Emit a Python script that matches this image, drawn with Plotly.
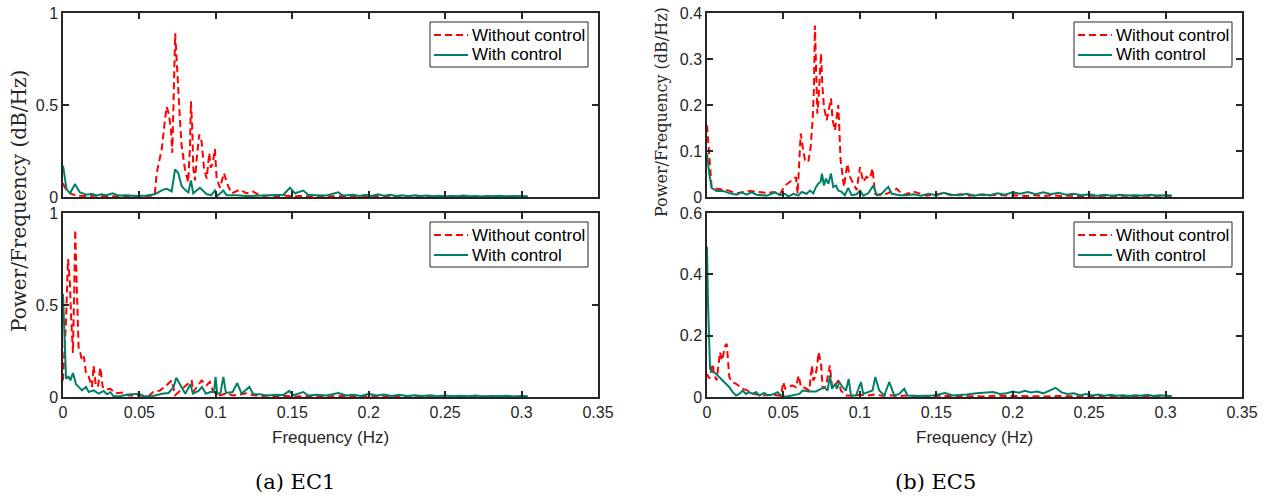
import plotly.graph_objects as go

# ---------------- data (Hz, PSD) ----------------
# EC1, top panel
ec1_top_wo_f = [0, 0.0013, 0.0033, 0.006, 0.009, 0.012, 0.016, 0.02, 0.025, 0.03, 0.035, 0.04, 0.045, 0.05, 0.054, 0.058,
                0.060, 0.0613, 0.0646, 0.0667, 0.0678, 0.0693, 0.0706, 0.0715, 0.0721, 0.0728, 0.0734, 0.0744, 0.0754,
                0.0765, 0.0776, 0.0798, 0.0819, 0.0831, 0.0837, 0.0846, 0.0852, 0.0863, 0.0874, 0.0891, 0.0907, 0.0922,
                0.094, 0.0957, 0.0966, 0.0979, 0.0994, 0.1005, 0.1027, 0.1053, 0.1075, 0.1103, 0.1158, 0.1201, 0.1243,
                0.1288, 0.132, 0.136, 0.14, 0.145, 0.15, 0.155, 0.16, 0.165, 0.17, 0.176, 0.182, 0.188, 0.194, 0.2,
                0.206, 0.212, 0.218, 0.224, 0.23, 0.236, 0.242, 0.248, 0.254, 0.26, 0.266, 0.272, 0.278, 0.284, 0.29,
                0.296, 0.304]
ec1_top_wo_v = [0.075, 0.05, 0.03, 0.015, 0.008, 0.006, 0.004, 0.007, 0.004, 0.005, 0.003, 0.005, 0.004, 0.006, 0.004, 0.006,
                0.01, 0.13, 0.26, 0.42, 0.49, 0.45, 0.37, 0.24, 0.5, 0.70, 0.89, 0.74, 0.55,
                0.42, 0.28, 0.15, 0.08, 0.28, 0.52, 0.37, 0.16, 0.09, 0.2, 0.34, 0.30, 0.16,
                0.1, 0.24, 0.16, 0.18, 0.26, 0.1, 0.05, 0.13, 0.07, 0.02, 0.04, 0.02, 0.03,
                0.008, 0.006, 0.01, 0.004, 0.008, 0.003, 0.006, 0.004, 0.007, 0.003, 0.005, 0.003, 0.006, 0.003, 0.005,
                0.003, 0.006, 0.003, 0.004, 0.002, 0.005, 0.003, 0.004, 0.002, 0.004, 0.002, 0.004, 0.002, 0.003, 0.002,
                0.003, 0.002]
ec1_top_w_f = [0, 0.0024, 0.0046, 0.0078, 0.0111, 0.0155, 0.0188, 0.022, 0.0253, 0.0285, 0.0325, 0.036, 0.0416, 0.048,
               0.0547, 0.060, 0.0656, 0.0678, 0.0711, 0.0733, 0.0754, 0.0776, 0.0803, 0.082, 0.0837, 0.0852, 0.0896,
               0.094, 0.097, 0.0994, 0.1009, 0.1049, 0.107, 0.1136, 0.1201, 0.1288, 0.1376, 0.1441, 0.1485, 0.1518,
               0.1572, 0.1604, 0.1659, 0.1724, 0.18, 0.1833, 0.1899, 0.194, 0.198, 0.202, 0.206, 0.21, 0.214, 0.218,
               0.222, 0.226, 0.23, 0.234, 0.238, 0.242, 0.246, 0.25, 0.254, 0.258, 0.262, 0.266, 0.27, 0.274, 0.278,
               0.282, 0.286, 0.29, 0.294, 0.298, 0.302, 0.304]
ec1_top_w_v = [0.17, 0.04, 0.02, 0.07, 0.025, 0.012, 0.018, 0.008, 0.015, 0.01, 0.02, 0.008, 0.01, 0.005,
               0.008, 0.015, 0.04, 0.045, 0.03, 0.15, 0.13, 0.06, 0.035, 0.025, 0.09, 0.02, 0.05,
               0.015, 0.01, 0.035, 0.005, 0.035, 0.01, 0.01, 0.005, 0.008, 0.01, 0.012, 0.05, 0.02,
               0.035, 0.012, 0.01, 0.008, 0.025, 0.008, 0.012, 0.006, 0.012, 0.005, 0.015, 0.007, 0.012, 0.005,
               0.01, 0.004, 0.009, 0.005, 0.008, 0.004, 0.007, 0.003, 0.006, 0.004, 0.008, 0.004, 0.006, 0.003, 0.006,
               0.004, 0.007, 0.003, 0.006, 0.004, 0.006, 0.004]

# EC1, bottom panel
ec1_bot_wo_f = [0, 0.002, 0.0033, 0.0044, 0.0054, 0.0065, 0.0074, 0.008, 0.009, 0.0103, 0.0113, 0.0124, 0.0137, 0.015,
                0.0168, 0.019, 0.02, 0.0214, 0.0229, 0.0244, 0.026, 0.0277, 0.031, 0.0342, 0.0397, 0.043, 0.0495,
                0.056, 0.059, 0.0634, 0.0678, 0.0711, 0.0733, 0.0765, 0.0809, 0.0842, 0.0852, 0.0878, 0.0907, 0.094,
                0.0961, 0.0983, 0.1027, 0.107, 0.1114, 0.1201, 0.1245, 0.13, 0.135, 0.14, 0.146, 0.152, 0.158, 0.164,
                0.17, 0.176, 0.182, 0.188, 0.194, 0.2, 0.206, 0.212, 0.218, 0.224, 0.23, 0.236, 0.242, 0.248, 0.254,
                0.26, 0.266, 0.272, 0.278, 0.284, 0.29, 0.296, 0.304]
ec1_bot_wo_v = [0.09, 0.42, 0.75, 0.64, 0.42, 0.24, 0.6, 0.91, 0.6, 0.25, 0.24, 0.2, 0.22, 0.13,
                0.11, 0.055, 0.17, 0.07, 0.055, 0.16, 0.055, 0.04, 0.045, 0.02, 0.025, 0.008, 0.008,
                0.005, 0.027, 0.035, 0.064, 0.09, 0.01, 0.035, 0.064, 0.09, 0.027, 0.058, 0.09, 0.064,
                0.082, 0.027, 0.008, 0.02, 0.008, 0.02, 0.01, 0.005, 0.008, 0.003, 0.006, 0.003, 0.005, 0.002,
                0.004, 0.003, 0.005, 0.002, 0.004, 0.003, 0.005, 0.002, 0.004, 0.002, 0.003, 0.002, 0.004, 0.002, 0.003,
                0.002, 0.003, 0.002, 0.003, 0.002, 0.003, 0.002, 0.002]
ec1_bot_w_f = [0, 0.0011, 0.002, 0.0037, 0.0048, 0.0065, 0.0085, 0.0103, 0.0124, 0.015, 0.0168, 0.02, 0.0233, 0.0266,
               0.0288, 0.031, 0.0331, 0.0375, 0.043, 0.0495, 0.0528, 0.0582, 0.0647, 0.0691, 0.0724, 0.0741, 0.0767,
               0.08, 0.0833, 0.085, 0.0887, 0.0909, 0.0935, 0.0964, 0.0988, 0.0998, 0.1009, 0.103, 0.1049, 0.1066,
               0.111, 0.114, 0.1168, 0.1219, 0.1245, 0.1288, 0.1332, 0.1397, 0.1441, 0.148, 0.1507, 0.1572, 0.1604,
               0.1659, 0.1724, 0.18, 0.1855, 0.19, 0.195, 0.2, 0.205, 0.21, 0.215, 0.22, 0.225, 0.23, 0.235, 0.24,
               0.245, 0.25, 0.255, 0.26, 0.265, 0.27, 0.275, 0.28, 0.285, 0.29, 0.295, 0.3, 0.304]
ec1_bot_w_v = [0.56, 0.3, 0.1, 0.11, 0.09, 0.13, 0.07, 0.055, 0.036, 0.055, 0.027, 0.036, 0.018, 0.033,
               0.015, 0.026, 0.004, 0.005, 0.013, 0.018, 0.004, 0.004, 0.018, 0.022, 0.055, 0.105, 0.064,
               0.018, 0.07, 0.018, 0.033, 0.055, 0.018, 0.027, 0.027, 0.109, 0.018, 0.02, 0.109, 0.022,
               0.027, 0.076, 0.018, 0.055, 0.015, 0.015, 0.008, 0.012, 0.01, 0.033, 0.01, 0.027, 0.008,
               0.012, 0.008, 0.022, 0.008, 0.012, 0.006, 0.018, 0.008, 0.014, 0.006, 0.012, 0.005, 0.01, 0.005, 0.009,
               0.004, 0.008, 0.004, 0.007, 0.004, 0.008, 0.003, 0.006, 0.004, 0.007, 0.003, 0.006, 0.004]

# EC5, top panel
ec5_top_wo_f = [0, 0.0015, 0.003, 0.0063, 0.0129, 0.0194, 0.0281, 0.0368, 0.039, 0.0434, 0.0477, 0.051, 0.0554, 0.0582,
                0.0593, 0.0613, 0.0626, 0.0641, 0.0663, 0.0678, 0.0691, 0.07, 0.0706, 0.0713, 0.0722, 0.073, 0.0746,
                0.0754, 0.0765, 0.0783, 0.0794, 0.0811, 0.0822, 0.0837, 0.0859, 0.0866, 0.0874, 0.0883, 0.0896,
                0.0918, 0.0935, 0.0957, 0.0979, 0.1001, 0.1022, 0.1044, 0.1066, 0.1083, 0.1099, 0.1131, 0.1175,
                0.1241, 0.1284, 0.1349, 0.1437, 0.1546, 0.16, 0.166, 0.172, 0.178, 0.184, 0.19, 0.196, 0.202, 0.208,
                0.214, 0.22, 0.226, 0.232, 0.238, 0.244, 0.25, 0.256, 0.262, 0.268, 0.274, 0.28, 0.286, 0.292,
                0.298, 0.304]
ec5_top_wo_v = [0.156, 0.08, 0.022, 0.018, 0.015, 0.008, 0.013, 0.01, 0.008, 0.011, 0.006, 0.025, 0.036, 0.043,
                0.007, 0.138, 0.109, 0.08, 0.076, 0.109, 0.167, 0.239, 0.373, 0.275, 0.181, 0.217, 0.312,
                0.246, 0.196, 0.167, 0.188, 0.214, 0.167, 0.145, 0.2, 0.145, 0.08, 0.058, 0.022,
                0.072, 0.044, 0.029, 0.015, 0.065, 0.033, 0.044, 0.04, 0.062, 0.007, 0.004, 0.007,
                0.018, 0.004, 0.012, 0.003, 0.008, 0.004, 0.006, 0.003, 0.005, 0.003, 0.005, 0.003, 0.004, 0.002,
                0.004, 0.002, 0.004, 0.002, 0.003, 0.002, 0.003, 0.002, 0.003, 0.002, 0.003, 0.002, 0.003, 0.002,
                0.003, 0.002]
ec5_top_w_f = [0, 0.0015, 0.003, 0.0063, 0.0107, 0.015, 0.0194, 0.0227, 0.0259, 0.0292, 0.0325, 0.039, 0.0445, 0.0477,
               0.051, 0.0532, 0.0565, 0.0597, 0.0619, 0.0652, 0.0674, 0.0695, 0.0713, 0.0728, 0.0743, 0.0752, 0.0765,
               0.0778, 0.0794, 0.0811, 0.0826, 0.0844, 0.0859, 0.0881, 0.0902, 0.0924, 0.0946, 0.0979, 0.1001, 0.1022,
               0.1055, 0.1088, 0.111, 0.1142, 0.1186, 0.1208, 0.1262, 0.1306, 0.135, 0.14, 0.145, 0.15, 0.155, 0.16,
               0.165, 0.17, 0.175, 0.18, 0.185, 0.19, 0.195, 0.2, 0.205, 0.21, 0.215, 0.22, 0.225, 0.23, 0.235, 0.24,
               0.245, 0.25, 0.255, 0.26, 0.265, 0.27, 0.275, 0.28, 0.285, 0.29, 0.295, 0.3, 0.304]
ec5_top_w_v = [0.095, 0.05, 0.02, 0.013, 0.013, 0.008, 0.005, 0.01, 0.005, 0.01, 0.005, 0.003, 0.01, 0.004,
               0.007, 0.001, 0.007, 0.003, 0.011, 0.007, 0.014, 0.008, 0.022, 0.029, 0.033, 0.051, 0.025,
               0.04, 0.029, 0.051, 0.022, 0.025, 0.014, 0.011, 0.004, 0.02, 0.004, 0.006, 0.014, 0.003,
               0.008, 0.025, 0.004, 0.007, 0.022, 0.007, 0.004, 0.004, 0.006, 0.003, 0.007, 0.004, 0.009, 0.005,
               0.004, 0.007, 0.003, 0.006, 0.004, 0.008, 0.005, 0.01, 0.007, 0.011, 0.006, 0.01, 0.006, 0.009, 0.005, 0.007,
               0.004, 0.006, 0.003, 0.005, 0.003, 0.005, 0.003, 0.004, 0.003, 0.005, 0.003, 0.004, 0.003]

# EC5, bottom panel
ec5_bot_wo_f = [0, 0.0015, 0.0037, 0.0046, 0.0063, 0.0076, 0.0085, 0.0098, 0.0109, 0.012, 0.0129, 0.0137, 0.0146,
                0.0164, 0.019, 0.0233, 0.0266, 0.0309, 0.0364, 0.0429, 0.0484, 0.0499, 0.0512, 0.0534, 0.0556,
                0.0582, 0.06, 0.0615, 0.064, 0.0669, 0.0687, 0.0695, 0.0708, 0.0719, 0.073, 0.0746, 0.0757, 0.0778,
                0.0804, 0.0818, 0.0844, 0.0861, 0.0876, 0.0909, 0.095, 0.1, 0.105, 0.11, 0.115, 0.12, 0.125, 0.13,
                0.14, 0.15, 0.16, 0.17, 0.18, 0.19, 0.2, 0.21, 0.22, 0.23, 0.24, 0.25, 0.26, 0.27, 0.28, 0.29, 0.304]
ec5_bot_wo_v = [0.075, 0.06, 0.108, 0.076, 0.054, 0.108, 0.146, 0.119, 0.146, 0.168, 0.173, 0.13, 0.065,
                0.049, 0.043, 0.027, 0.021, 0.01, 0.005, 0.008, 0.004, 0.049, 0.027, 0.032, 0.038,
                0.032, 0.07, 0.032, 0.03, 0.021, 0.103, 0.054, 0.065, 0.097, 0.146, 0.108, 0.027, 0.035,
                0.103, 0.032, 0.043, 0.054, 0.021, 0.005, 0.004, 0.007, 0.005, 0.008, 0.004, 0.006, 0.003, 0.005,
                0.003, 0.004, 0.003, 0.004, 0.002, 0.004, 0.003, 0.004, 0.002, 0.003, 0.002, 0.003, 0.002, 0.003, 0.002, 0.003, 0.002]
ec5_bot_w_f = [0, 0.0007, 0.002, 0.0037, 0.0059, 0.008, 0.0103, 0.0124, 0.0146, 0.0168, 0.019, 0.0211, 0.0233, 0.0255,
               0.0277, 0.0298, 0.032, 0.0342, 0.0375, 0.0397, 0.0429, 0.0462, 0.0484, 0.0516, 0.056, 0.0604, 0.0626,
               0.0669, 0.0713, 0.0746, 0.0767, 0.0789, 0.0804, 0.0818, 0.0839, 0.085, 0.0866, 0.0887, 0.0909, 0.0927,
               0.0942, 0.0975, 0.1007, 0.1022, 0.1061, 0.1083, 0.1101, 0.1127, 0.116, 0.1192, 0.1225, 0.1258, 0.129,
               0.1312, 0.137, 0.148, 0.1557, 0.161, 0.1697, 0.1763, 0.1873, 0.1916, 0.196, 0.2, 0.204, 0.208, 0.212,
               0.216, 0.22, 0.224, 0.228, 0.232, 0.236, 0.24, 0.244, 0.248, 0.252, 0.256, 0.26, 0.264, 0.268, 0.272,
               0.276, 0.28, 0.284, 0.288, 0.292, 0.296, 0.3, 0.304]
ec5_bot_w_v = [0.49, 0.3, 0.092, 0.082, 0.076, 0.065, 0.054, 0.043, 0.032, 0.016, 0.005, 0.01, 0.021, 0.01,
               0.016, 0.01, 0.016, 0.005, 0.013, 0.005, 0.008, 0.016, 0.005, 0.001, 0.005, 0.01, 0.021,
               0.018, 0.018, 0.027, 0.032, 0.021, 0.07, 0.027, 0.043, 0.027, 0.049, 0.032, 0.021, 0.059,
               0.005, 0.005, 0.049, 0.01, 0.016, 0.021, 0.065, 0.021, 0.005, 0.049, 0.005, 0.01, 0.027,
               0.005, 0.003, 0.005, 0.013, 0.005, 0.008, 0.012, 0.016, 0.01, 0.012, 0.018, 0.014, 0.02, 0.015,
               0.018, 0.012, 0.02, 0.03, 0.015, 0.01, 0.012, 0.006, 0.01, 0.005, 0.008, 0.004, 0.007, 0.004, 0.006,
               0.003, 0.006, 0.004, 0.007, 0.003, 0.006, 0.004, 0.003]

x_tickvals = [0, 0.05, 0.1, 0.15, 0.2, 0.25, 0.3, 0.35]
x_ticktext = ["0", "0.05", "0.1", "0.15", "0.2", "0.25", "0.3", "0.35"]
y_ec1_ticks = [0, 0.5, 1]
y_ec1_text = ["0", "0.5", "1"]
y_ec5_top_ticks = [0, 0.1, 0.2, 0.3, 0.4]
y_ec5_top_text = ["0", "0.1", "0.2", "0.3", "0.4"]
y_ec5_bot_ticks = [0, 0.2, 0.4, 0.6]
y_ec5_bot_text = ["0", "0.2", "0.4", "0.6"]
series_names = ["Without control", "With control"]

# ---------------- styling / layout ----------------
# The page body margin is removed (see post_script), so the figure fills the
# 1267x496 window and all positions below are given in window pixels.
W, H = 1267, 496
RED = "#FF0000"
GREEN = "#008066"
AX = "#262626"
SANS = "Liberation Sans, Arial, sans-serif"
SERIF = "DejaVu Serif, serif"
RED_DASH = "7px,4px"


def fx(px):
    return px / W


def fy(py):
    return 1 - py / H


fig = go.Figure()

panels = [
    ("x", "y", ec1_top_wo_f, ec1_top_wo_v, ec1_top_w_f, ec1_top_w_v),
    ("x2", "y2", ec1_bot_wo_f, ec1_bot_wo_v, ec1_bot_w_f, ec1_bot_w_v),
    ("x3", "y3", ec5_top_wo_f, ec5_top_wo_v, ec5_top_w_f, ec5_top_w_v),
    ("x4", "y4", ec5_bot_wo_f, ec5_bot_wo_v, ec5_bot_w_f, ec5_bot_w_v),
]
for xa, ya, rf, rv, gf, gv in panels:
    fig.add_trace(go.Scatter(x=rf, y=rv, mode="lines", name=series_names[0], xaxis=xa, yaxis=ya,
                             showlegend=False, line=dict(color=RED, width=2, dash=RED_DASH)))
    fig.add_trace(go.Scatter(x=gf, y=gv, mode="lines", name=series_names[1], xaxis=xa, yaxis=ya,
                             showlegend=False, line=dict(color=GREEN, width=2)))

LX = [fx(63), fx(598)]
RX = [fx(707), fx(1242)]
TOPY = [fy(197), fy(13)]
BOTY = [fy(397), fy(213)]

TICKFONT = dict(family=SANS, size=16, color=AX)


def xax(domain, anchor, labels):
    return dict(domain=domain, anchor=anchor, range=[0, 0.35], tickvals=x_tickvals, ticktext=x_ticktext,
                showticklabels=labels, showline=True, linecolor=AX, linewidth=1.5, mirror="ticks",
                ticks="inside", ticklen=6, tickwidth=1.5, tickcolor=AX, showgrid=False, zeroline=False,
                automargin=False, ticklabeloverflow="allow", tickfont=TICKFONT)


def yax(domain, anchor, rng, tv, tt):
    return dict(domain=domain, anchor=anchor, range=rng, tickvals=tv, ticktext=tt,
                showline=True, linecolor=AX, linewidth=1.5, mirror="ticks",
                ticks="inside", ticklen=6, tickwidth=1.5, tickcolor=AX, showgrid=False, zeroline=False,
                automargin=False, ticklabeloverflow="allow", tickfont=TICKFONT)


fig.update_layout(
    width=W, height=H, autosize=False, margin=dict(l=0, r=0, t=0, b=0, pad=0),
    paper_bgcolor="white", plot_bgcolor="white", showlegend=False,
    xaxis=xax(LX, "y", False), yaxis=yax(TOPY, "x", [0, 1], y_ec1_ticks, y_ec1_text),
    xaxis2=xax(LX, "y2", True), yaxis2=yax(BOTY, "x2", [0, 1], y_ec1_ticks, y_ec1_text),
    xaxis3=xax(RX, "y3", False), yaxis3=yax(TOPY, "x3", [0, 0.4], y_ec5_top_ticks, y_ec5_top_text),
    xaxis4=xax(RX, "y4", True), yaxis4=yax(BOTY, "x4", [0, 0.6], y_ec5_bot_ticks, y_ec5_bot_text),
)

# ---- legends (box, sample lines and labels, placed in paper space) ----
shapes = []
ann = []
legend_boxes = [(430, 22), (430, 222), (1074, 22), (1074, 222)]  # left/top window pixel of each legend box
LW, LH = 158, 45
for bx, by in legend_boxes:
    shapes.append(dict(type="rect", xref="paper", yref="paper", x0=fx(bx), x1=fx(bx + LW),
                       y0=fy(by + LH), y1=fy(by), line=dict(color=AX, width=1),
                       fillcolor="white", layer="above"))
    for i, (nm, col, dash) in enumerate([(series_names[0], RED, RED_DASH), (series_names[1], GREEN, "solid")]):
        yc = by + 13 + i * 20
        shapes.append(dict(type="line", xref="paper", yref="paper", x0=fx(bx + 4), x1=fx(bx + 38),
                           y0=fy(yc), y1=fy(yc), line=dict(color=col, width=2, dash=dash),
                           layer="above"))
        ann.append(dict(text=nm, x=fx(bx + 40), y=fy(yc), xanchor="left", yanchor="middle",
                        font=dict(family=SANS, size=17, color="black")))

ann += [
    dict(text="Power/Frequency (dB/Hz)", x=fx(19), y=fy(201), textangle=-90,
         font=dict(family=SERIF, size=20, color=AX)),
    dict(text="Power/Frequency (dB/Hz)", x=fx(661), y=fy(112), textangle=-90,
         font=dict(family=SERIF, size=16, color=AX)),
    dict(text="Frequency (Hz)", x=fx((63 + 598) / 2), y=fy(437),
         font=dict(family=SANS, size=17, color=AX)),
    dict(text="Frequency (Hz)", x=fx((707 + 1242) / 2), y=fy(437),
         font=dict(family=SANS, size=17, color=AX)),
    dict(text="(a) EC1", x=fx(295), y=fy(482), font=dict(family=SERIF, size=21, color="black")),
    dict(text="(b) EC5", x=fx(935), y=fy(482), font=dict(family=SERIF, size=21, color="black")),
]
for a in ann:
    a.setdefault("xanchor", "center")
    a.setdefault("yanchor", "middle")
    a.update(xref="paper", yref="paper", showarrow=False)
fig.update_layout(annotations=ann, shapes=shapes)

fig.write_html("out.html", config={"displayModeBar": False},
               post_script="document.body.style.margin='0px'; document.body.style.overflow='hidden';")
